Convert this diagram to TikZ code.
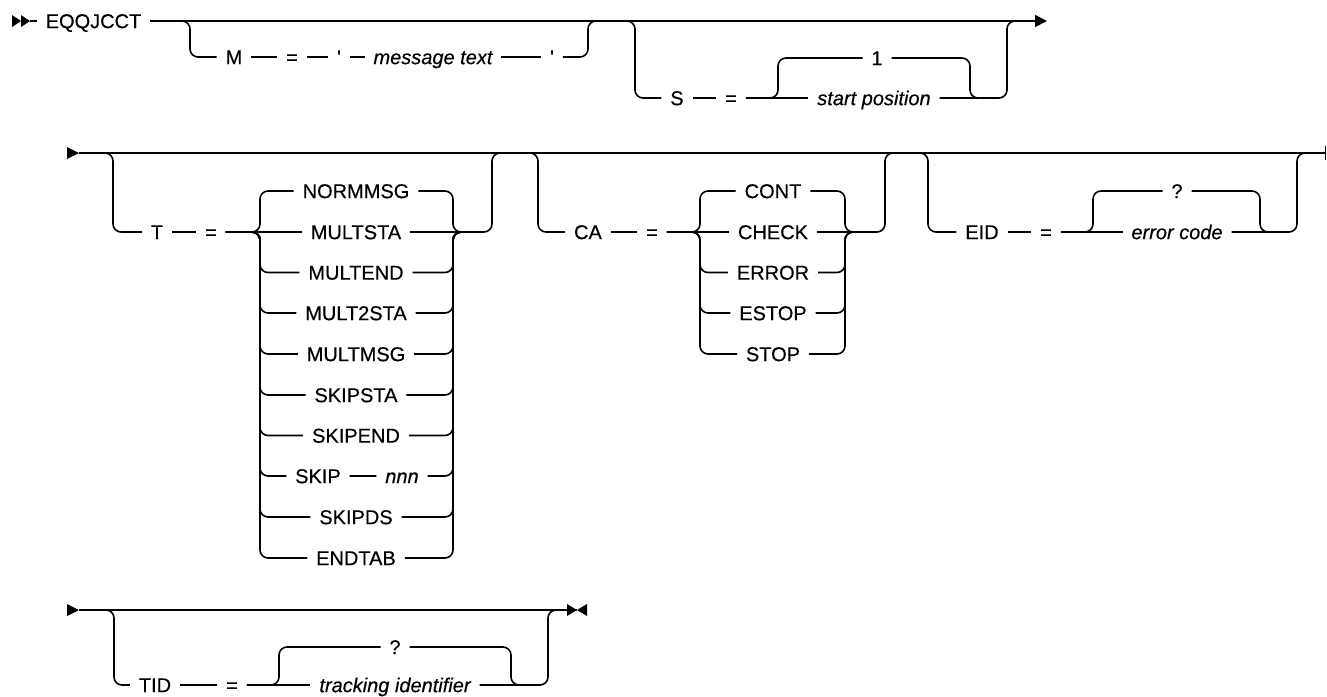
\documentclass[tikz,border=0pt]{standalone}
\usepackage{fontspec}
\setmainfont{Liberation Sans}
\newfontfamily\railfont[FakeBold=0.4]{Liberation Sans}
\usetikzlibrary{arrows.meta}
\tikzset{
  rail/.style={line width=1.2pt,rounded corners=6pt},
  kw/.style={inner xsep=6.5pt,inner ysep=0pt,text height=10.7pt,text depth=0pt,
             font=\railfont\fontsize{15}{18}\selectfont},
  var/.style={kw,font=\railfont\fontsize{15}{18}\selectfont\itshape},
  endtip/.style={-{Triangle[length=9pt,width=9pt]}},
}

\begin{document}
\begin{tikzpicture}[x=0.75pt,y=-0.75pt]
\useasboundingbox (0,0) rectangle (1327,696);

%--- first line
\fill (12,15)--(21,21)--(12,27)--cycle (21,15)--(30,21)--(21,27)--cycle;
\coordinate (r1) at (30,21);
\node[kw] (eqq) at (93.5,21) {EQQJCCT};
\draw[rail] (r1) -- (eqq);
\draw[rail,endtip] (eqq) -- (1047,21);
% M = 'message text'
\coordinate (m0) at (190,57);
\coordinate (m1) at (588,21);
\node[kw] (mkey) at (234,57) {M};
\node[kw] (meq) at (292,57) {=};
\node[kw] (mq1) at (339,57) {\textquotesingle};
\node[var] (mtxt) at (433,57) {message text};
\node[kw] (mq2) at (552,57) {\textquotesingle};
\draw[rail] (eqq) -| (m0) -- (mkey);
\draw[rail] (mkey) -- (meq) (meq) -- (mq1) (mq1) -- (mtxt) (mtxt) -- (mq2);
\draw[rail] (mq2) -| (m1) -- (598,21);
% S = 1 / start position
\coordinate (s0) at (635,98);
\coordinate (s1) at (1007,21);
\node[kw] (skey) at (677,98) {S};
\node[kw] (seq) at (731,98) {=};
\node[kw] (sdef) at (877,58) {1};
\node[var] (stxt) at (874,98) {start position};
\draw[rail] (m1) -| (s0) -- (skey);
\draw[rail] (skey) -- (seq) (seq) -- (stxt);
\draw[rail] (seq) -| (778,58) -- (sdef);
\draw[rail] (sdef) -| (970,98) -- (980,98);
\draw[rail] (stxt) -| (s1) -- (1017,21);

%--- second line
\fill (67,147)--(79,153)--(67,159)--cycle;
\coordinate (r2) at (79,153);
\coordinate (r2e) at (1325.5,153);
\draw[rail] (r2) -- (r2e);
\draw[line width=1.3pt] (1325.5,146) -- (1325.5,160);
% T = ...
\coordinate (t0) at (113,232);
\coordinate (tR) at (492,153);
\node[kw] (tkey) at (157,232) {T};
\node[kw] (teq) at (211,232) {=};
\node[kw] (t2) at (356,232) {MULTSTA};
\draw[rail] (r2) -| (t0) -- (tkey);
\draw[rail] (tkey) -- (teq) (teq) -- (t2);
\draw[rail] (t2) -| (tR) -- (502,153);
\foreach \n/\y/\w in {t1/191/NORMMSG,t3/272.5/MULTEND,t4/313/MULT2STA,t5/354/MULTMSG,
                      t6/395/SKIPSTA,t7/435.5/SKIPEND,t9/517/SKIPDS,t10/558/ENDTAB}{
  \node[kw] (\n) at (356,\y) {\w};
  \draw[rail] (teq) -| (260,\y) -- (\n);
  \draw[rail] (\n) -| (453,232) -- (463,232);
}
\node[kw] (t8) at (318,476) {SKIP};
\node[var] (nnn) at (402,476) {nnn};
\draw[rail] (teq) -| (260,476) -- (t8);
\draw[rail] (t8) -- (nnn) (nnn) -| (453,232) -- (463,232);
% CA = ...
\coordinate (c0) at (538,232);
\coordinate (cR) at (885,153);
\node[kw] (ckey) at (588,232) {CA};
\node[kw] (ceq) at (652,232) {=};
\node[kw] (c2) at (773,232) {CHECK};
\draw[rail] (tR) -| (c0) -- (ckey);
\draw[rail] (ckey) -- (ceq) (ceq) -- (c2);
\draw[rail] (c2) -| (cR) -- (895,153);
\foreach \n/\y/\w in {c1/191/CONT,c3/272.5/ERROR,c4/313/ESTOP,c5/354/STOP}{
  \node[kw] (\n) at (773,\y) {\w};
  \draw[rail] (ceq) -| (700,\y) -- (\n);
  \draw[rail] (\n) -| (845,232) -- (855,232);
}
% EID = ...
\coordinate (e0) at (928,232);
\coordinate (eR) at (1297,153);
\node[kw] (ekey) at (982,232) {EID};
\node[kw] (eeq) at (1046,232) {=};
\node[kw] (edef) at (1177,191) {?};
\node[var] (etxt) at (1177,232) {error code};
\draw[rail] (cR) -| (e0) -- (ekey);
\draw[rail] (ekey) -- (eeq) (eeq) -- (etxt);
\draw[rail] (eeq) -| (1093,191) -- (edef);
\draw[rail] (edef) -| (1260,232) -- (1270,232);
\draw[rail] (etxt) -| (eR) -- (1307,153);

%--- third line
\fill (67,604)--(79,610)--(67,616)--cycle;
\coordinate (r3) at (79,610);
\coordinate (r3e) at (577,610);
\draw[rail] (r3) -- (r3e);
\fill (567,604)--(577,610)--(567,616)--cycle (587,604)--(577,610)--(587,616)--cycle;
% TID = ...
\coordinate (d0) at (114,685);
\coordinate (dR) at (548,610);
\node[kw] (dkey) at (155,685) {TID};
\node[kw] (deq) at (232,685) {=};
\node[kw] (ddef) at (395,647) {?};
\node[var] (dtxt) at (395,685) {tracking identifier};
\draw[rail] (r3) -| (d0) -- (dkey);
\draw[rail] (dkey) -- (deq) (deq) -- (dtxt);
\draw[rail] (deq) -| (279,647) -- (ddef);
\draw[rail] (ddef) -| (511,685) -- (521,685);
\draw[rail] (dtxt) -| (dR) -- (558,610);
\end{tikzpicture}
\end{document}
